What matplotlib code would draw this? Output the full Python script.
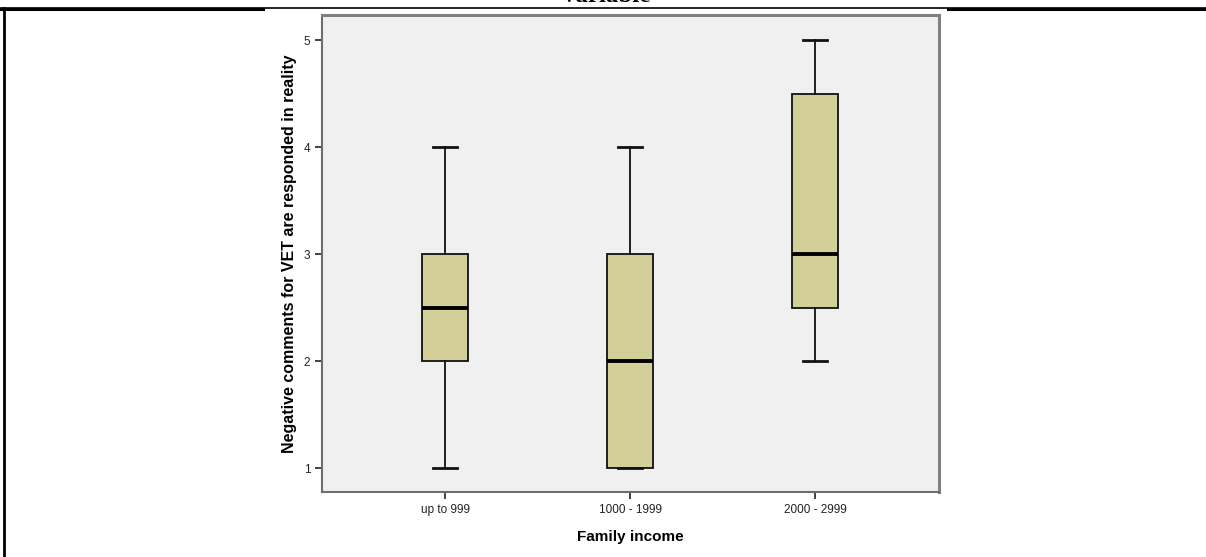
import matplotlib

matplotlib.use("Agg")

import matplotlib.pyplot as plt
from matplotlib.lines import Line2D

categories = ["up to 999", "1000 - 1999", "2000 - 2999"]
whisker_low = [1, 1, 2]
q1 = [2, 1, 2.5]
median = [2.5, 2, 3]
q3 = [3, 3, 4.5]
whisker_high = [4, 4, 5]
y_ticks = [1, 2, 3, 4, 5]

BOX_FILL = "#d3cf98"
PLOT_BG = "#f0f0f0"
FRAME = "#6e6e6e"

plt.rcParams["font.family"] = ["Liberation Sans", "DejaVu Sans"]

fig = plt.figure(figsize=(12.06, 5.57), dpi=100)
ax = fig.add_axes([0.267, 0.1167, 0.5116, 0.8558])
ax.set_facecolor(PLOT_BG)

stats = [
    {"whislo": lo, "q1": a, "med": m, "q3": b, "whishi": hi, "fliers": []}
    for lo, a, m, b, hi in zip(whisker_low, q1, median, q3, whisker_high)
]
ax.bxp(
    stats,
    positions=range(len(categories)),
    widths=0.25,
    capwidths=0.125,
    patch_artist=True,
    boxprops={"facecolor": BOX_FILL, "edgecolor": "#111111", "linewidth": 1.3},
    whiskerprops={"color": "#111111", "linewidth": 1.3},
    capprops={"color": "#111111", "linewidth": 2.0},
    medianprops={"color": "black", "linewidth": 2.8},
)

ax.set_xlim(-0.665, 2.67)
ax.set_ylim(0.776, 5.234)
ax.set_xticks(range(len(categories)))
ax.set_xticklabels(categories)
ax.set_yticks(y_ticks)
ax.tick_params(axis="both", labelsize=8.5, colors="#222222", length=5, width=1.2, direction="out")

for side in ("left", "bottom"):
    ax.spines[side].set_color(FRAME)
    ax.spines[side].set_linewidth(1.5)
for side in ("top", "right"):
    ax.spines[side].set_color("#808080")
    ax.spines[side].set_linewidth(2.2)

ax.set_ylabel("Negative comments for VET are responded in reality",
              fontsize=11.5, fontweight="bold", labelpad=5)
ax.set_xlabel("Family income", fontsize=11, fontweight="bold", labelpad=10)

# abgeschnittener Titel und Tabellenrahmen des Dokuments
fig.text(0.503, 1 - 1.5 / 557, "variable", ha="center", va="baseline",
         fontsize=18, fontweight="bold", family=["Liberation Serif", "DejaVu Serif"])
fig.add_artist(Line2D([0, 1], [1 - 7.5 / 557] * 2, transform=fig.transFigure,
                      color="black", linewidth=1.2))
fig.add_artist(Line2D([0, 263 / 1206], [1 - 9 / 557] * 2, transform=fig.transFigure,
                      color="black", linewidth=2.2))
fig.add_artist(Line2D([948 / 1206, 1], [1 - 9 / 557] * 2, transform=fig.transFigure,
                      color="black", linewidth=2.2))
fig.add_artist(Line2D([4 / 1206] * 2, [0, 1 - 8 / 557], transform=fig.transFigure,
                      color="black", linewidth=2.0))

fig.savefig("out.png", dpi=100, facecolor="white")
